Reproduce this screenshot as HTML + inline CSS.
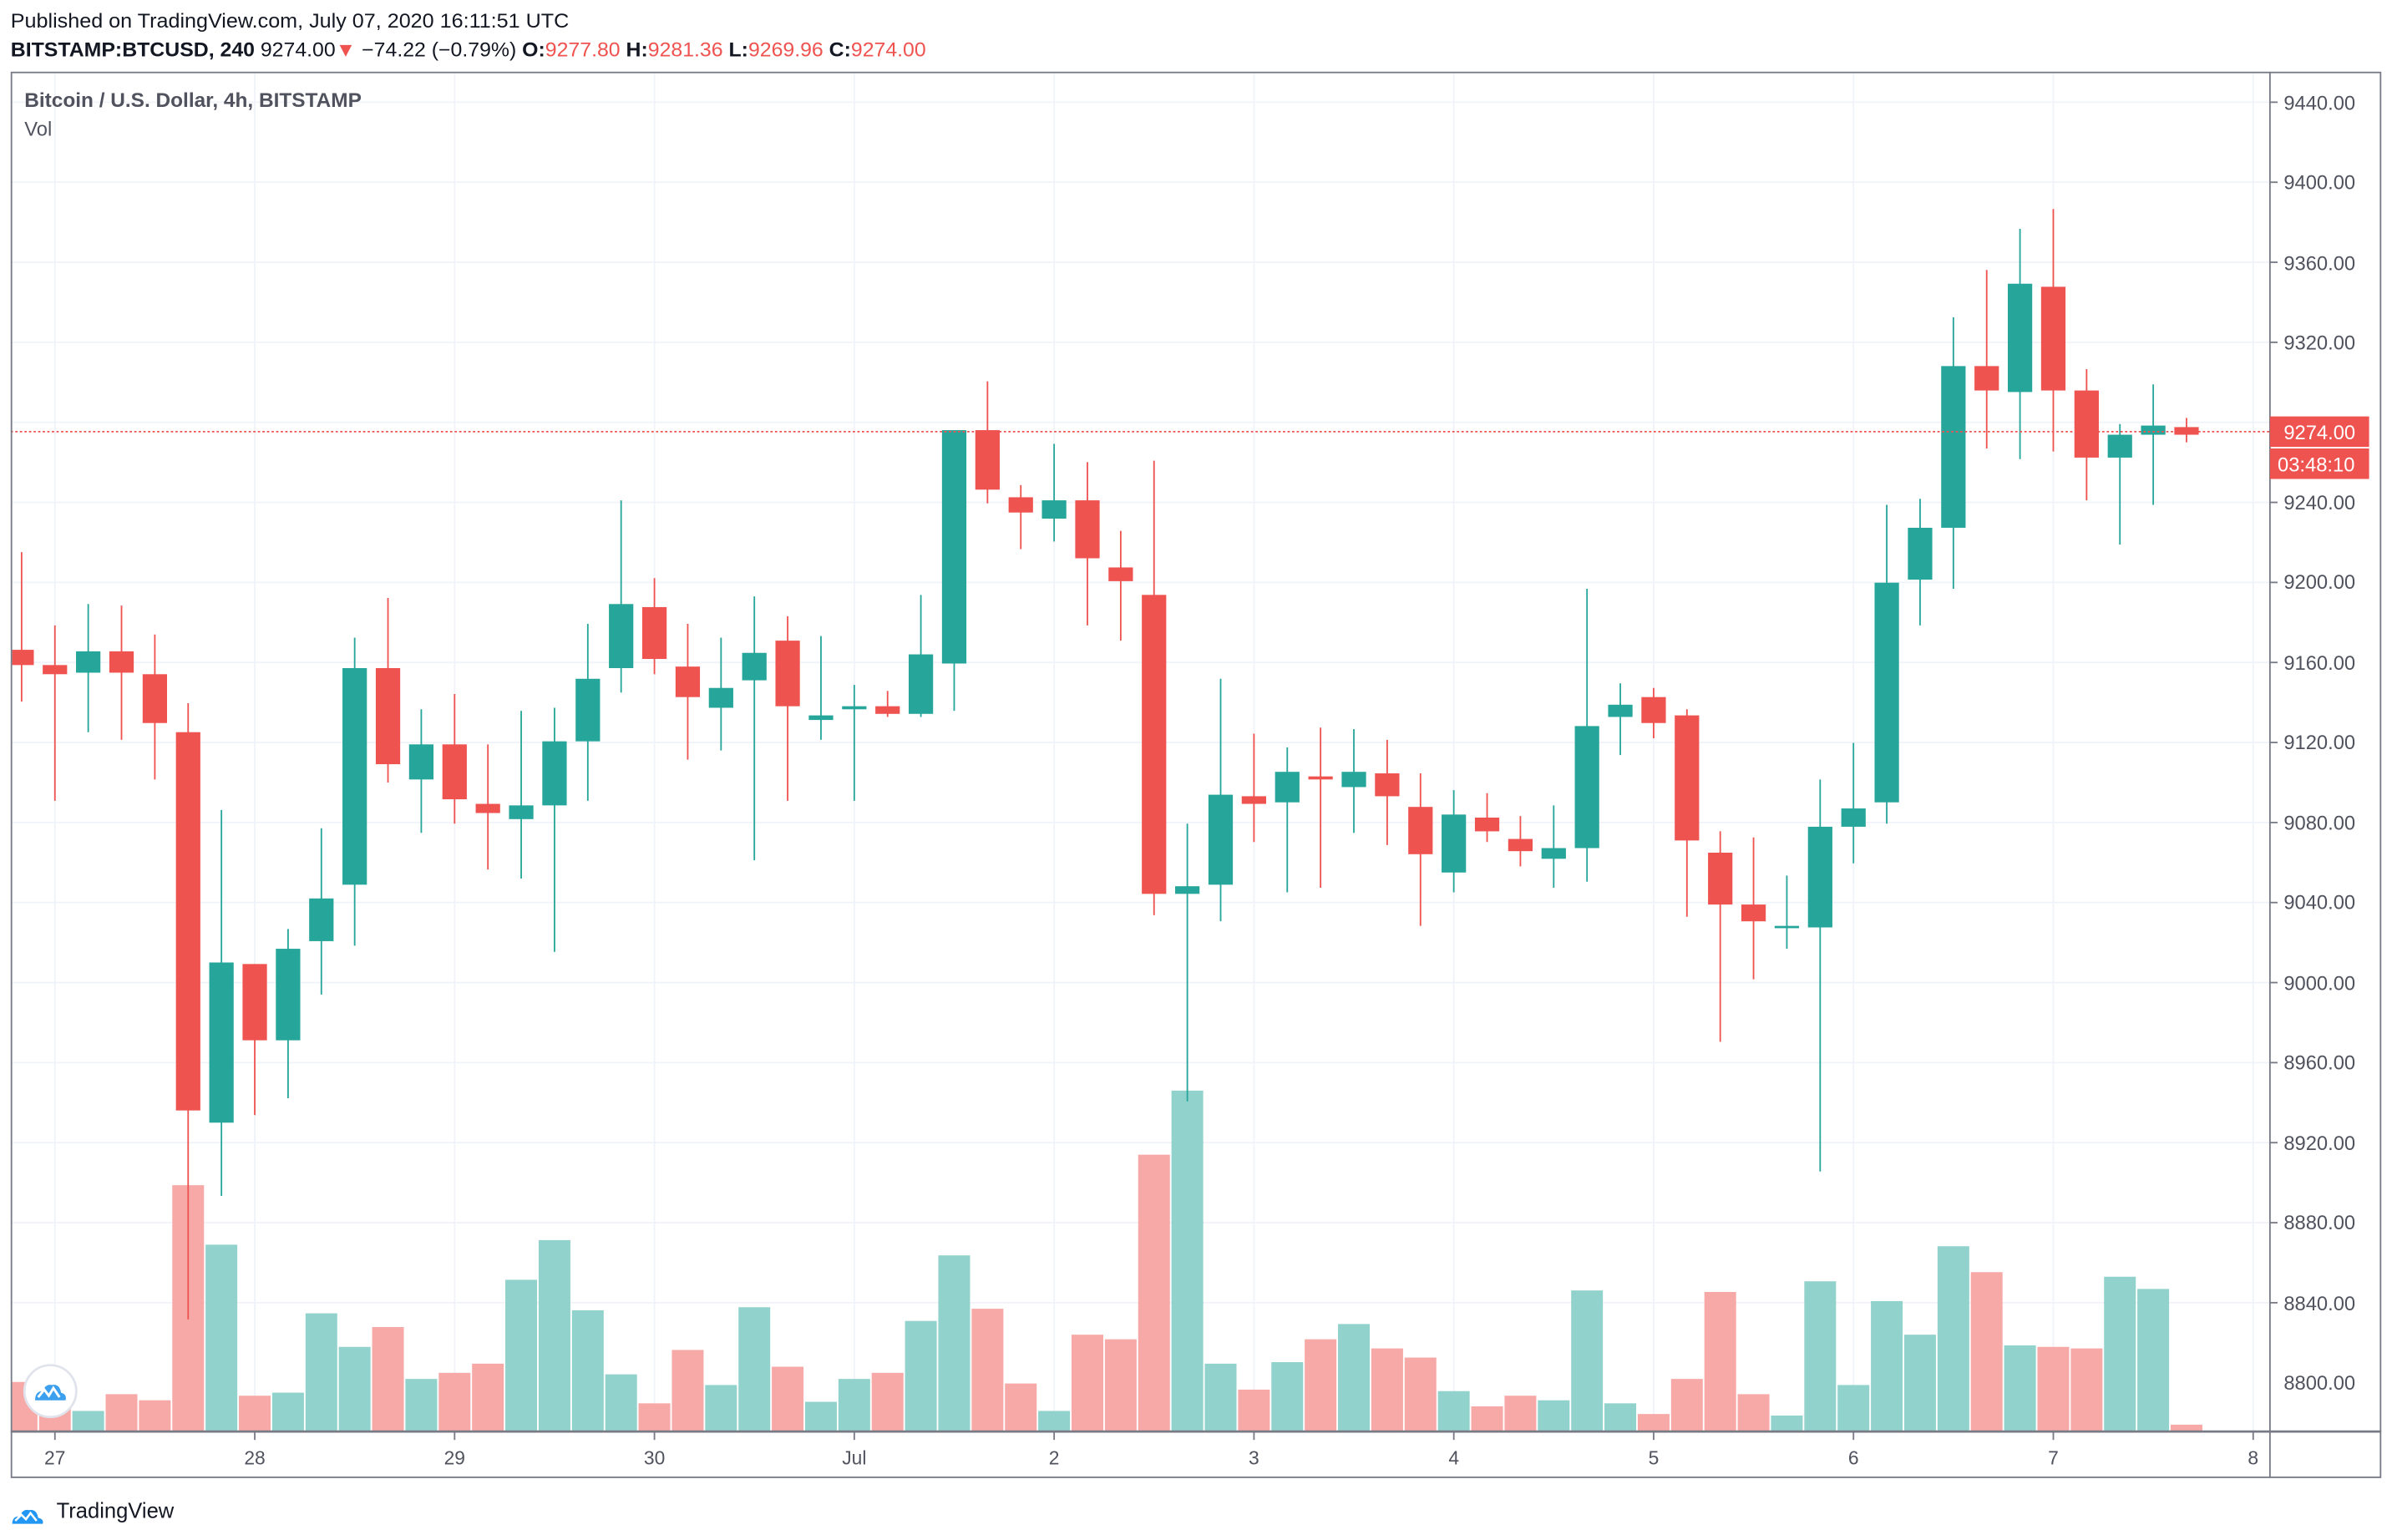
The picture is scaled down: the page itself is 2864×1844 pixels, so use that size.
<!DOCTYPE html>
<html><head><meta charset="utf-8"><style>
html,body{margin:0;padding:0;background:#fff;}
svg{display:block;}
text{font-family:"Liberation Sans",sans-serif;}
</style></head><body>
<svg id="s" width="2864" height="1844" viewBox="0 0 1568 1009.6" preserveAspectRatio="none" xmlns="http://www.w3.org/2000/svg">
<rect x="0" y="0" width="1568" height="1010" fill="#fff"/>
<g id="grid" stroke="#f0f3fa" stroke-width="1"></g>
<g id="vol"></g>
<g id="cdl"></g>
<line x1="7" y1="283" x2="1488" y2="283" stroke="#ef5350" stroke-width="1" stroke-dasharray="1.5,1.5"/>
<!-- frame -->
<rect x="7.5" y="47.5" width="1553" height="921" fill="none" stroke="#787b86" stroke-width="1"/>
<line x1="1488" y1="47" x2="1488" y2="969" stroke="#787b86" stroke-width="1"/>
<line x1="7" y1="938.5" x2="1561" y2="938.5" stroke="#787b86" stroke-width="1.5"/>
<g id="ticks" stroke="#787b86" stroke-width="1"></g>
<!-- header -->
<text x="7" y="18" font-size="13" fill="#131722" textLength="366" lengthAdjust="spacingAndGlyphs">Published on TradingView.com, July 07, 2020 16:11:51 UTC</text>
<text x="7" y="37" font-size="13" fill="#131722" textLength="600" lengthAdjust="spacingAndGlyphs"><tspan font-weight="bold">BITSTAMP:BTCUSD, 240</tspan> 9274.00<tspan fill="#ef5350">▼</tspan> −74.22 (−0.79%) <tspan font-weight="bold">O:</tspan><tspan fill="#ef5350">9277.80</tspan> <tspan font-weight="bold">H:</tspan><tspan fill="#ef5350">9281.36</tspan> <tspan font-weight="bold">L:</tspan><tspan fill="#ef5350">9269.96</tspan> <tspan font-weight="bold">C:</tspan><tspan fill="#ef5350">9274.00</tspan></text>
<text x="16" y="70" font-size="13" font-weight="bold" fill="#50535e" textLength="221" lengthAdjust="spacingAndGlyphs">Bitcoin / U.S. Dollar, 4h, BITSTAMP</text>
<text x="16" y="89" font-size="13" fill="#50535e">Vol</text>
<!-- price axis labels -->
<g font-size="13" fill="#50535e">
<text x="1497" y="72">9440.00</text>
<text x="1497" y="124">9400.00</text>
<text x="1497" y="177">9360.00</text>
<text x="1497" y="229">9320.00</text>
<text x="1497" y="334">9240.00</text>
<text x="1497" y="386">9200.00</text>
<text x="1497" y="439">9160.00</text>
<text x="1497" y="491">9120.00</text>
<text x="1497" y="544">9080.00</text>
<text x="1497" y="596">9040.00</text>
<text x="1497" y="649">9000.00</text>
<text x="1497" y="701">8960.00</text>
<text x="1497" y="754">8920.00</text>
<text x="1497" y="806">8880.00</text>
<text x="1497" y="859">8840.00</text>
<text x="1497" y="911">8800.00</text>
</g>
<rect x="1488" y="273" width="65" height="20" fill="#ef5350"/>
<text x="1497" y="288" font-size="13" fill="#fff">9274.00</text>
<rect x="1488" y="294" width="65" height="20" fill="#ef5350"/>
<text x="1493" y="309" font-size="13" fill="#fff">03:48:10</text>
<!-- time labels -->
<g font-size="12.5" fill="#50535e" text-anchor="middle">
<text x="36" y="960">27</text><text x="167" y="960">28</text><text x="298" y="960">29</text>
<text x="429" y="960">30</text><text x="560" y="960">Jul</text><text x="691" y="960">2</text>
<text x="822" y="960">3</text><text x="953" y="960">4</text><text x="1084" y="960">5</text>
<text x="1215" y="960">6</text><text x="1346" y="960">7</text><text x="1477" y="960">8</text>
</g>
<!-- logo circle -->
<circle cx="33" cy="912" r="17" fill="#fff" stroke="#e0e3eb" stroke-width="1.5"/>
<path d="M23,918 q0,-6 5,-6 q2,-5 6,-4 q5,-1 6,5 q4,1 3,5 z" fill="#3ca0ef"/>
<path d="M25,916 l4,-5 l3,4 l3,-5 l4,6" fill="none" stroke="#fff" stroke-width="1.6"/>
<!-- footer -->
<path d="M8,999 q0,-5 5,-5 q2,-5 6,-4 q5,-1 6,5 q4,1 3,4 z" fill="#2196f3"/>
<path d="M10,997 l4,-4 l3,3 l3,-4 l4,5" fill="none" stroke="#fff" stroke-width="1.4"/>
<text x="37" y="995" font-size="14" fill="#131722">TradingView</text>
</svg>
<script>
var NS="http://www.w3.org/2000/svg";
function el(p,t,a){var e=document.createElementNS(NS,t);for(var k in a)e.setAttribute(k,a[k]);p.appendChild(e);return e;}
var grid=document.getElementById('grid'),ticks=document.getElementById('ticks');
for(var i=0;i<16;i++){var y=67+i*52.47;el(grid,'line',{x1:8,y1:y,x2:1488,y2:y});el(ticks,'line',{x1:1488,y1:y,x2:1493,y2:y});}
for(var d=0;d<12;d++){var x=36+d*131.0;el(grid,'line',{x1:x,y1:48,x2:x,y2:938});el(ticks,'line',{x1:x,y1:938,x2:x,y2:944});}
var C=[
[-1,'r',362,460,426,436,906],[0,'r',410,525,436,442,917],[1,'g',396,480,427,441,925],[2,'r',397,485,427,441,914],
[3,'r',416,511,442,474,918],[4,'r',461,865,480,728,777],[5,'g',531,784,631,736,816],[6,'r',632,731,632,682,915],
[7,'g',609,720,622,682,913],[8,'g',543,652,589,617,861],[9,'g',418,620,438,580,883],[10,'r',392,513,438,501,870],
[11,'g',465,546,488,511,904],[12,'r',455,540,488,524,900],[13,'r',488,570,527,533,894],[14,'g',466,576,528,537,839],
[15,'g',464,624,486,528,813],[16,'g',409,525,445,486,859],[17,'g',328,454,396,438,901],[18,'r',379,442,398,432,920],
[19,'r',409,498,437,457,885],[20,'g',418,492,451,464,908],[21,'g',391,564,428,446,857],[22,'r',404,525,420,463,896],
[23,'g',417,485,469,472,919],[24,'g',449,525,463,465,904],[25,'r',453,470,463,468,900],[26,'g',390,470,429,468,866],
[27,'g',282,466,282,435,823],[28,'r',250,330,282,321,858],[29,'r',318,360,326,336,907],[30,'g',291,355,328,340,925],
[31,'r',303,410,328,366,875],[32,'r',348,420,372,381,878],[33,'r',302,600,390,586,757],[34,'g',540,722,581,586,715],
[35,'g',445,604,521,580,894],[36,'r',481,552,522,527,911],[37,'g',490,585,506,526,893],[38,'r',477,582,509,511,878],
[39,'g',478,546,506,516,868],[40,'r',485,554,507,522,884],[41,'r',507,607,529,560,890],[42,'g',518,585,534,572,912],
[43,'r',520,552,536,545,922],[44,'r',535,568,550,558,915],[45,'g',528,582,556,563,918],[46,'g',386,578,476,556,846],
[47,'g',448,495,462,470,920],[48,'r',451,484,457,474,927],[49,'r',465,601,469,551,904],[50,'r',545,683,559,593,847],
[51,'r',549,642,593,604,914],[52,'g',574,622,607,608,928],[53,'g',511,768,542,608,840],[54,'g',487,566,530,542,908],
[55,'g',331,540,382,526,853],[56,'g',327,410,346,380,875],[57,'g',208,386,240,346,817],[58,'r',177,294,240,256,834],
[59,'g',150,301,186,257,882],[60,'r',137,296,188,256,883],[61,'r',242,328,256,300,884],[62,'g',278,357,285,300,837],
[63,'g',252,331,279,285,845],[64,'r',274,290,280,285,934]];
var vol=document.getElementById('vol'),cdl=document.getElementById('cdl');
C.forEach(function(c){
 var x=36+c[0]*21.833, g=c[1]=='g';
 var vx=x-10.4, vw=20.8; if(vx<8){vw-=8-vx;vx=8;}
 el(vol,'rect',{x:vx,y:c[6],width:vw,height:938-c[6],fill:g?'#92d2cc':'#f6a9a7'});
 var col=g?'#26a69a':'#ef5350';
 el(cdl,'line',{x1:x,y1:c[2],x2:x,y2:c[3],stroke:col,'stroke-width':1});
 var bx=x-8, bw=16; if(bx<8){bw-=8-bx;bx=8;}
 el(cdl,'rect',{x:bx,y:c[4],width:bw,height:Math.max(1.5,c[5]-c[4]),fill:col});
});
</script>
</body></html>
